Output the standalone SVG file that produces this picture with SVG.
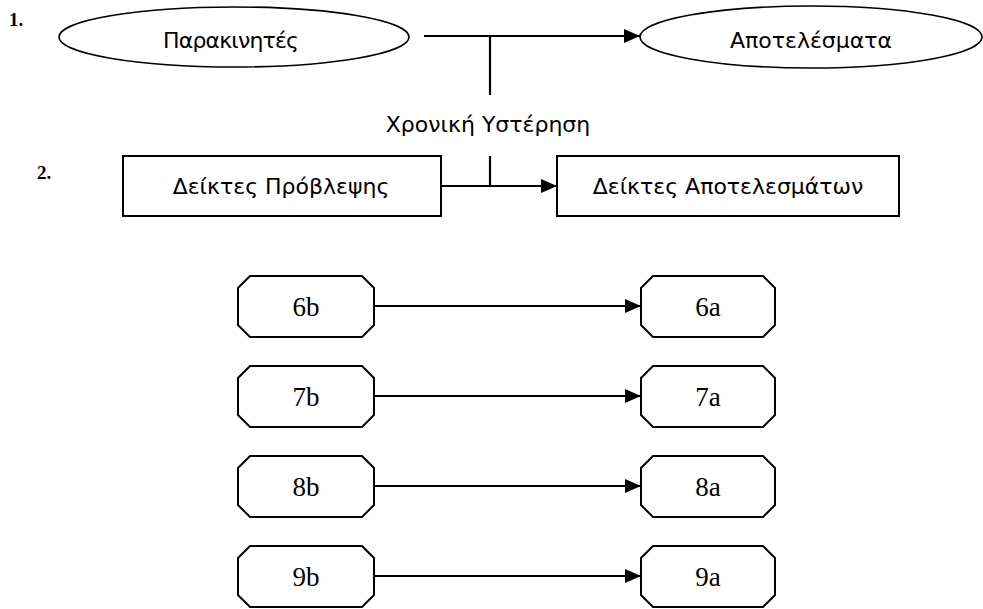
<svg xmlns="http://www.w3.org/2000/svg" width="983" height="609" viewBox="0 0 983 609">
<defs>
<style>
.sans{font-family:"DejaVu Sans",Verdana,sans-serif;font-size:22px;fill:#000;text-anchor:middle}
.serif{font-family:"Liberation Serif","Times New Roman",serif;font-size:27px;fill:#000;text-anchor:middle}
.num{font-family:"Liberation Serif","Times New Roman",serif;font-size:19px;font-weight:bold;fill:#000}
.shape{fill:#fff;stroke:#000;stroke-width:2}
.ell{fill:#fff;stroke:#000;stroke-width:1.6}
.line{fill:none;stroke:#000;stroke-width:2.2}
</style>
<marker id="arr" viewBox="0 0 16 14" refX="16" refY="7" markerWidth="16" markerHeight="14" markerUnits="userSpaceOnUse" orient="auto">
<path d="M0,0 L16,7 L0,14 Z" fill="#000"/>
</marker>
</defs>
<rect width="983" height="609" fill="#fff"/>
<text class="num" x="9" y="26">1.</text>
<text class="num" x="37" y="179">2.</text>
<g id="connectors">
<line class="line" x1="424" y1="36" x2="640" y2="36" marker-end="url(#arr)"/>
<line class="line" x1="490" y1="36" x2="490" y2="95"/>
<line class="line" x1="441" y1="186" x2="557" y2="186" marker-end="url(#arr)"/>
<line class="line" x1="490" y1="156" x2="490" y2="186"/>
<line class="line" x1="374" y1="306" x2="641" y2="306" marker-end="url(#arr)"/>
<line class="line" x1="374" y1="396" x2="641" y2="396" marker-end="url(#arr)"/>
<line class="line" x1="374" y1="486" x2="641" y2="486" marker-end="url(#arr)"/>
<line class="line" x1="374" y1="576" x2="641" y2="576" marker-end="url(#arr)"/>
</g>
<g id="lag-label"><text class="sans" x="488" y="132">Χρονική Υστέρηση</text></g>
<g id="drivers">
<ellipse class="ell" cx="234" cy="37" rx="175" ry="30"/>
<text class="sans" x="231" y="48" textLength="136">Παρακινητές</text>
</g>
<g id="results">
<ellipse class="ell" cx="811" cy="37" rx="171" ry="31"/>
<text class="sans" x="811" y="48">Αποτελέσματα</text>
</g>
<g id="leading">
<rect class="shape" x="123" y="156" width="318" height="60"/>
<text class="sans" x="281" y="194">Δείκτες Πρόβλεψης</text>
</g>
<g id="lagging">
<rect class="shape" x="557" y="156" width="342" height="60"/>
<text class="sans" x="728" y="194">Δείκτες Αποτελεσμάτων</text>
</g>
<g id="n6b"><path class="shape" d="M250,276 H362 L374,288 V325 L362,337 H250 L238,325 V288 Z"/><text class="serif" x="306" y="316">6b</text></g>
<g id="n6a"><path class="shape" d="M653,276 H763 L775,288 V325 L763,337 H653 L641,325 V288 Z"/><text class="serif" x="708" y="316">6a</text></g>
<g id="n7b"><path class="shape" d="M250,366 H362 L374,378 V415 L362,427 H250 L238,415 V378 Z"/><text class="serif" x="306" y="406">7b</text></g>
<g id="n7a"><path class="shape" d="M653,366 H763 L775,378 V415 L763,427 H653 L641,415 V378 Z"/><text class="serif" x="708" y="406">7a</text></g>
<g id="n8b"><path class="shape" d="M250,456 H362 L374,468 V505 L362,517 H250 L238,505 V468 Z"/><text class="serif" x="306" y="496">8b</text></g>
<g id="n8a"><path class="shape" d="M653,456 H763 L775,468 V505 L763,517 H653 L641,505 V468 Z"/><text class="serif" x="708" y="496">8a</text></g>
<g id="n9b"><path class="shape" d="M250,546 H362 L374,558 V595 L362,607 H250 L238,595 V558 Z"/><text class="serif" x="306" y="586">9b</text></g>
<g id="n9a"><path class="shape" d="M653,546 H763 L775,558 V595 L763,607 H653 L641,595 V558 Z"/><text class="serif" x="708" y="586">9a</text></g>
</svg>
